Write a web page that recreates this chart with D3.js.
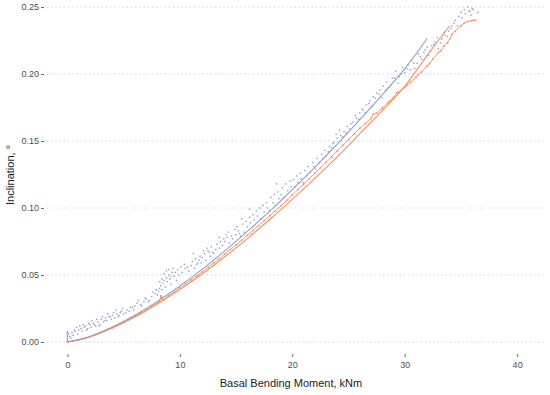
<!DOCTYPE html>
<html>
<head>
<meta charset="utf-8">
<script src="https://cdn.jsdelivr.net/npm/d3@7"></script>
<style>
  body { margin: 0; background: #fff; }
  svg { font-family: "Liberation Sans", Arial, sans-serif; }
</style>
</head>
<body>
<svg class="chart"></svg>
<script>
// measured points, blue run
var bluePoints = [
  [0,0],[0,0.002],[0,0.004],[0,0.006],[0,0.007],[0,0.003],[0,0.005],[0,0.001],[0,0.008],
  [0.1,0.006],[0.2,0.004],[0.3,0.003],[0.4,0.007],[0.5,0.005],[0.6,0.009],[0.7,0.008],[0.8,0.011],[0.9,0.006],
  [1.0,0.009],[1.1,0.012],[1.2,0.010],[1.3,0.008],[1.4,0.013],[1.5,0.011],[1.6,0.012],[1.7,0.009],[1.8,0.010],[1.9,0.014],
  [2.0,0.013],[2.1,0.011],[2.2,0.016],[2.3,0.014],[2.4,0.013],[2.5,0.012],[2.6,0.017],[2.7,0.015],[2.8,0.012],[2.9,0.013],
  [3.0,0.017],[3.1,0.019],[3.2,0.015],[3.3,0.016],[3.4,0.018],[3.5,0.016],[3.6,0.021],[3.7,0.019],[3.8,0.019],[3.9,0.017],
  [4.0,0.020],[4.1,0.022],[4.2,0.018],[4.3,0.024],[4.4,0.021],[4.5,0.019],[4.6,0.020],[4.7,0.022],[4.8,0.023],[4.9,0.025],
  [5.0,0.021],[5.2,0.022],[5.3,0.024],[5.5,0.023],[5.6,0.026],[5.8,0.026],[5.9,0.024],[6.0,0.027],[6.2,0.029],[6.3,0.031],
  [6.5,0.028],[6.6,0.027],[6.8,0.030],[6.9,0.033],[7.0,0.032],[7.2,0.030],[7.3,0.031],[7.5,0.034],[7.6,0.037],[7.8,0.036],
  [7.9,0.039],[8.0,0.035],[8.1,0.038],[8.2,0.040],[8.2,0.045],[8.3,0.042],[8.4,0.039],[8.4,0.047],[8.5,0.044],[8.6,0.046],
  [8.6,0.051],[8.7,0.041],[8.8,0.048],[8.8,0.053],[8.9,0.045],[9.0,0.050],[9.0,0.054],[9.1,0.047],[9.2,0.043],[9.2,0.049],
  [9.3,0.052],[9.4,0.055],[9.5,0.049],[9.6,0.052],[9.7,0.046],[9.8,0.054],[9.9,0.050],[10.1,0.056],[10.2,0.052],[10.4,0.058],
  [10.5,0.055],[10.7,0.056],[10.8,0.053],[11.0,0.057],[11.1,0.060],[11.2,0.066],[11.3,0.055],[11.4,0.062],[11.5,0.058],[11.6,0.059],
  [11.7,0.061],[11.8,0.064],[11.9,0.059],[12.0,0.063],[12.1,0.068],[12.2,0.066],[12.3,0.061],[12.4,0.070],[12.5,0.068],[12.6,0.067],
  [12.7,0.064],[12.8,0.071],[12.9,0.067],[13.0,0.066],[13.2,0.069],[13.3,0.073],[13.5,0.070],[13.5,0.078],[13.6,0.075],[13.8,0.072],
  [13.9,0.077],[14.0,0.075],[14.1,0.080],[14.2,0.078],[14.3,0.082],[14.4,0.074],[14.6,0.079],[14.7,0.077],[14.9,0.084],[15.0,0.080],
  [15.1,0.086],[15.2,0.083],[15.3,0.081],[15.4,0.079],[15.5,0.092],[15.6,0.088],[15.7,0.082],[15.9,0.090],[16.0,0.086],[16.2,0.093],
  [16.2,0.099],[16.3,0.089],[16.5,0.095],[16.6,0.091],[16.8,0.098],[16.9,0.094],[17.1,0.100],[17.2,0.092],[17.4,0.102],[17.5,0.097],
  [17.7,0.104],[17.8,0.100],[18.0,0.098],[18.1,0.108],[18.3,0.104],[18.4,0.110],[18.5,0.102],[18.6,0.118],[18.7,0.112],[18.8,0.107],
  [19.0,0.110],[19.1,0.115],[19.3,0.108],[19.4,0.118],[19.6,0.113],[19.8,0.120],[19.9,0.116],
  [20.1,0.121],[20.2,0.116],[20.4,0.124],[20.5,0.119],[20.7,0.126],[20.8,0.122],[21.0,0.119],[21.1,0.128],[21.3,0.124],[21.4,0.131],
  [21.6,0.127],[21.8,0.134],[21.9,0.131],[22.1,0.129],[22.2,0.137],[22.4,0.134],[22.6,0.140],[22.7,0.137],[22.9,0.143],[23.0,0.139],
  [23.2,0.142],[23.3,0.146],[23.5,0.145],[23.6,0.148],[23.7,0.149],[23.9,0.155],[24.0,0.152],[24.2,0.158],[24.3,0.154],[24.5,0.153],
  [24.6,0.157],[24.8,0.156],[24.9,0.161],[25.1,0.159],[25.2,0.163],[25.4,0.164],[25.6,0.169],[25.7,0.167],[25.9,0.166],[26.0,0.171],
  [26.2,0.174],[26.3,0.173],[26.5,0.171],[26.6,0.177],[26.8,0.178],[26.9,0.180],[27.1,0.176],[27.2,0.183],[27.4,0.182],[27.5,0.186],
  [27.7,0.185],[27.8,0.188],[28.0,0.182],[28.1,0.191],[28.3,0.188],[28.4,0.194],[28.6,0.190],[28.8,0.192],[28.9,0.197],[29.1,0.197],
  [29.2,0.202],[29.4,0.193],[29.5,0.198],[29.7,0.200],[29.8,0.205],[30.0,0.201],[30.2,0.204],[30.3,0.207],[30.5,0.203],[30.6,0.210],
  [30.8,0.208],[30.9,0.204],[31.1,0.208],[31.2,0.215],[31.4,0.213],[31.5,0.211],[31.7,0.216],[31.8,0.218],
  [32.0,0.220],[32.1,0.214],[32.3,0.217],[32.4,0.221],[32.6,0.222],[32.7,0.224],[32.9,0.227],[33.0,0.219],[33.2,0.223],[33.3,0.226],
  [33.5,0.231],[33.6,0.229],[33.8,0.228],[33.9,0.232],[34.1,0.234],[34.2,0.236],[34.4,0.238],[34.5,0.240],[34.7,0.236],[34.8,0.243],
  [35.0,0.246],[35.1,0.242],[35.3,0.248],[35.4,0.245],[35.6,0.250],[35.7,0.247],[35.8,0.247],[35.9,0.244],[36.0,0.249],[36.1,0.248]
];

// measured points, orange run
var orangePoints = [
  [0,0],[0.5,0.0007],[1,0.0014],[1.5,0.0026],[2,0.0040],[2.5,0.0058],[3,0.0075],[3.5,0.0093],[4,0.0108],[4.5,0.0128],
  [5,0.0150],[5.5,0.0170],[6,0.0193],[6.5,0.0218],[7,0.0243],[7.5,0.0268],[8,0.0292],[8.2,0.0305],[8.3,0.0345],[8.4,0.0330],
  [8.5,0.0315],[9,0.0345],[9.5,0.0373],[10,0.0403],[10.5,0.0433],[11,0.0464],[11.5,0.0493],[12,0.0525],[12.5,0.0558],[13,0.0590],
  [13.5,0.0622],[14,0.0656],[14.5,0.0690],[15,0.0725],[15.5,0.0760],[16,0.0796],[16.5,0.0832],[17,0.0868],[17.5,0.0905],[18,0.0942],
  [18.5,0.0979],[19,0.1017],[19.5,0.1056],[20,0.1097],[20.5,0.1137],[21,0.1177],[21.5,0.1218],[22,0.1258],[22.5,0.1299],[23,0.1341],
  [23.5,0.1383],[24,0.1425],[24.5,0.1468],[25,0.1510],[25.5,0.1553],[26,0.1595],[26.5,0.1630],[27,0.1668],[27.2,0.1700],[27.5,0.1706],
  [28,0.1745],[28.5,0.1786],[28.7,0.1800],[29,0.1826],[29.3,0.1862],[29.5,0.1865],[30,0.1900],[30.2,0.1915],[30.5,0.1937],[31,0.1975],
  [31.2,0.1995],[31.5,0.2015],[32,0.2060],[32.2,0.2078],[32.5,0.2110],[33,0.2160],[33.2,0.2172],[33.5,0.2210],[33.8,0.2232],[34,0.2260],
  [34.2,0.2295],[34.5,0.2320],[35,0.2360],[35.3,0.2380],[35.6,0.2392],[35.9,0.2397],[36.1,0.2400],[36.3,0.2402],[36.5,0.2460]
];

// fitted curves
var blueFit = [
  [0,0],[2,0.0041],[4,0.0112],[6,0.0200],[8,0.0303],[10,0.0418],[12,0.0544],[14,0.0680],[16,0.0825],
  [18,0.0976],[20,0.1137],[22,0.1304],[24,0.1477],[26,0.1659],[28,0.1845],[30,0.2038],[32,0.2265]
];
var orangeFit = [
  [0,0],[2,0.0038],[4,0.0105],[6,0.0187],[8,0.0284],[10,0.0391],[12,0.0509],[14,0.0636],[16,0.0772],
  [18,0.0914],[20,0.1064],[22,0.1221],[24,0.1382],[26,0.1553],[28,0.1727],[30,0.1908],[32,0.2139],[34,0.2360]
];

var xTicks = [0, 10, 20, 30, 40];
var yTicks = [0, 0.05, 0.10, 0.15, 0.20, 0.25];

var blue = '#8DA0CB', orange = '#FC8D62';

var svg = d3.select('.chart').attr('width', 550).attr('height', 395);

var x = d3.scaleLinear().domain([-1.82, 42.48]).range([47, 545]);
var y = d3.scaleLinear().domain([0, 0.25]).range([342, 7]);

// horizontal dotted grid
svg.append('g')
   .selectAll('line')
   .data(yTicks)
   .join('line')
   .attr('x1', 47).attr('x2', 545)
   .attr('y1', d => y(d)).attr('y2', d => y(d))
   .attr('stroke', '#c4c4c4')
   .attr('stroke-width', 0.9)
   .attr('stroke-dasharray', '1.2,3');

var yAxis = d3.axisLeft(y).tickValues(yTicks).tickFormat(d3.format('.2f')).tickSize(3).tickPadding(2);
var xAxis = d3.axisBottom(x).tickValues(xTicks).tickFormat(d3.format('d')).tickSize(3).tickPadding(5);

var gy = svg.append('g').attr('transform', 'translate(44,0)').call(yAxis);
var gx = svg.append('g').attr('transform', 'translate(0,354)').call(xAxis);
[gy, gx].forEach(g => {
  g.select('.domain').remove();
  g.selectAll('line').attr('stroke', '#444').attr('stroke-width', 0.8);
  g.selectAll('text').attr('fill', '#4d4d4d').style('font-size', '9px');
});

// fit lines and the orange run trace
var line = d3.line().x(d => x(d[0])).y(d => y(d[1])).curve(d3.curveMonotoneX);
svg.append('path').datum(orangeFit).attr('d', line)
   .attr('fill', 'none').attr('stroke', orange).attr('stroke-width', 1.1);
svg.append('path').datum(orangePoints.slice(0, -1)).attr('d', d3.line().x(d => x(d[0])).y(d => y(d[1])))
   .attr('fill', 'none').attr('stroke', orange).attr('stroke-width', 0.9);
svg.append('path').datum(blueFit).attr('d', line)
   .attr('fill', 'none').attr('stroke', blue).attr('stroke-width', 1.1);

// points
svg.append('g').selectAll('rect')
   .data(orangePoints)
   .join('rect')
   .attr('x', d => x(d[0]) - 0.8).attr('y', d => y(d[1]) - 0.8)
   .attr('width', 1.6).attr('height', 1.6)
   .attr('fill', orange);

svg.append('g').selectAll('rect')
   .data(bluePoints)
   .join('rect')
   .attr('x', d => x(d[0]) - 0.7).attr('y', d => y(d[1]) - 0.7)
   .attr('width', 1.4).attr('height', 1.4)
   .attr('fill', blue);

// titles
svg.append('text')
   .attr('x', 291).attr('y', 387)
   .attr('text-anchor', 'middle')
   .style('font-size', '11px')
   .attr('fill', '#1a1a1a')
   .text('Basal Bending Moment, kNm');

svg.append('text')
   .attr('transform', 'translate(14,175) rotate(-90)')
   .attr('text-anchor', 'middle')
   .style('font-size', '11px')
   .attr('fill', '#1a1a1a')
   .text('Inclination, °');
</script>
</body>
</html>
